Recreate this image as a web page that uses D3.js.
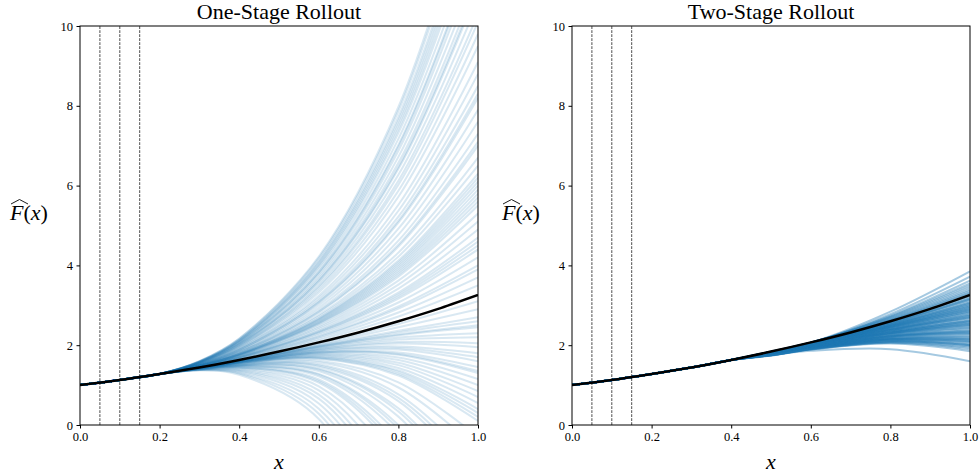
<!DOCTYPE html>
<html>
<head>
<meta charset="utf-8">
<script src="https://cdn.jsdelivr.net/npm/d3@7"></script>
<style>
  body { margin: 0; background: #fff; }
  svg text { font-family: "Liberation Serif", "Times New Roman", Times, serif; }
</style>
</head>
<body>
<svg id="chart" width="979" height="474"></svg>
<script>
// true function, sampled every 0.1
const truthX = [0, 0.1, 0.2, 0.3, 0.4, 0.5, 0.6, 0.7, 0.8, 0.9, 1.0];
const truthY = [1.0, 1.13, 1.28, 1.44, 1.63, 1.84, 2.07, 2.32, 2.6, 2.91, 3.26];

// one-stage estimates at x = 0.3, 0.4, 0.6, 0.8, 1.0 (on the truth up to x = 0.2)
const oneStageX = [0.3, 0.4, 0.6, 0.8, 1.0];
const oneStage = [
  [1.60, 2.17, 4.22, 7.97, 14.0], [1.60, 2.16, 4.18, 7.87, 13.8], [1.59, 2.14, 4.12, 7.72, 13.5],
  [1.59, 2.13, 4.08, 7.62, 13.3], [1.59, 2.12, 4.04, 7.52, 13.1], [1.58, 2.11, 4.00, 7.42, 12.9],
  [1.58, 2.10, 3.96, 7.32, 12.7], [1.58, 2.09, 3.90, 7.17, 12.4], [1.57, 2.07, 3.84, 7.02, 12.1],
  [1.57, 2.07, 3.82, 6.97, 12.0], [1.57, 2.06, 3.78, 6.87, 11.8], [1.56, 2.04, 3.72, 6.72, 11.5],
  [1.56, 2.03, 3.66, 6.57, 11.2], [1.56, 2.02, 3.62, 6.47, 11.0], [1.55, 2.01, 3.60, 6.42, 10.9],
  [1.55, 2.00, 3.54, 6.27, 10.6], [1.55, 1.98, 3.48, 6.12, 10.3], [1.54, 1.97, 3.44, 6.02, 10.1],
  [1.54, 1.96, 3.38, 5.87, 9.8], [1.53, 1.94, 3.32, 5.72, 9.5], [1.53, 1.92, 3.24, 5.52, 9.1],
  [1.52, 1.91, 3.18, 5.37, 8.8], [1.52, 1.89, 3.12, 5.22, 8.5], [1.52, 1.88, 3.08, 5.12, 8.3],
  [1.51, 1.88, 3.06, 5.07, 8.2], [1.51, 1.86, 3.00, 4.92, 7.9], [1.51, 1.85, 2.94, 4.77, 7.6],
  [1.50, 1.83, 2.88, 4.62, 7.3], [1.50, 1.82, 2.84, 4.52, 7.1], [1.50, 1.82, 2.82, 4.47, 7.0],
  [1.49, 1.80, 2.76, 4.32, 6.7], [1.49, 1.79, 2.72, 4.22, 6.5], [1.49, 1.78, 2.68, 4.12, 6.3],
  [1.48, 1.78, 2.66, 4.07, 6.2], [1.48, 1.77, 2.64, 4.02, 6.1], [1.48, 1.77, 2.62, 3.97, 6.0],
  [1.48, 1.76, 2.60, 3.92, 5.9], [1.48, 1.76, 2.58, 3.87, 5.8], [1.48, 1.75, 2.56, 3.82, 5.7],
  [1.48, 1.75, 2.54, 3.77, 5.6], [1.47, 1.74, 2.52, 3.72, 5.5], [1.47, 1.73, 2.48, 3.62, 5.3],
  [1.47, 1.72, 2.44, 3.52, 5.1], [1.46, 1.71, 2.40, 3.42, 4.9], [1.46, 1.70, 2.36, 3.32, 4.7],
  [1.46, 1.70, 2.34, 3.27, 4.6], [1.46, 1.69, 2.32, 3.22, 4.5], [1.46, 1.69, 2.30, 3.17, 4.4],
  [1.45, 1.68, 2.26, 3.07, 4.2], [1.45, 1.67, 2.22, 2.97, 4.0], [1.45, 1.66, 2.20, 2.92, 3.9],
  [1.45, 1.65, 2.16, 2.82, 3.7], [1.44, 1.64, 2.12, 2.72, 3.5],
  [1.44, 1.63, 2.05, 2.53, 3.1], [1.44, 1.62, 2.02, 2.45, 2.9], [1.44, 1.62, 2.00, 2.36, 2.7],
  [1.44, 1.61, 1.98, 2.32, 2.6], [1.44, 1.61, 1.97, 2.27, 2.5], [1.44, 1.61, 1.96, 2.25, 2.45],
  [1.44, 1.61, 1.95, 2.19, 2.3], [1.43, 1.60, 1.93, 2.14, 2.2], [1.43, 1.60, 1.91, 2.08, 2.05],
  [1.43, 1.60, 1.90, 2.04, 1.95], [1.43, 1.59, 1.88, 1.97, 1.8], [1.43, 1.59, 1.87, 1.93, 1.7],
  [1.43, 1.59, 1.85, 1.89, 1.6], [1.43, 1.58, 1.83, 1.82, 1.45], [1.43, 1.58, 1.82, 1.78, 1.35],
  [1.43, 1.58, 1.82, 1.76, 1.3], [1.43, 1.58, 1.80, 1.69, 1.15], [1.43, 1.57, 1.78, 1.63, 1.0],
  [1.43, 1.57, 1.76, 1.56, 0.85], [1.43, 1.57, 1.74, 1.50, 0.7], [1.43, 1.56, 1.72, 1.43, 0.55],
  [1.43, 1.56, 1.70, 1.37, 0.4], [1.43, 1.56, 1.69, 1.33, 0.3], [1.42, 1.55, 1.67, 1.28, 0.2],
  [1.42, 1.55, 1.66, 1.24, 0.1],
  [1.42, 1.54, 1.61, 1.07, -0.3], [1.42, 1.53, 1.57, 0.94, -0.6], [1.42, 1.52, 1.52, 0.77, -1.0],
  [1.42, 1.52, 1.49, 0.68, -1.2], [1.42, 1.51, 1.46, 0.60, -1.4], [1.41, 1.50, 1.41, 0.42, -1.8],
  [1.41, 1.50, 1.39, 0.34, -2.0], [1.41, 1.49, 1.35, 0.21, -2.3], [1.41, 1.48, 1.28, 0.00, -2.8],
  [1.41, 1.47, 1.26, -0.09, -3.0], [1.41, 1.47, 1.22, -0.22, -3.3], [1.40, 1.45, 1.14, -0.48, -3.9],
  [1.40, 1.44, 1.10, -0.61, -4.2], [1.40, 1.44, 1.06, -0.74, -4.5], [1.40, 1.42, 0.97, -1.04, -5.2],
  [1.39, 1.40, 0.87, -1.38, -6.0], [1.39, 1.38, 0.76, -1.73, -6.8], [1.39, 1.36, 0.66, -2.07, -7.6],
  [1.38, 1.34, 0.54, -2.46, -8.5], [1.38, 1.31, 0.41, -2.89, -9.5], [1.37, 1.29, 0.28, -3.32, -10.5],
  [1.37, 1.26, 0.15, -3.75, -11.5]
];

// two-stage estimates at x = 0.5, 0.6, 0.8, 1.0 (on the truth up to x = 0.4)
const twoStageX = [0.5, 0.6, 0.8, 1.0];
const twoStage = [
  [1.83, 2.06, 2.84, 3.85], [1.83, 2.06, 2.78, 3.72], [1.83, 2.06, 2.74, 3.62], [1.83, 2.06, 2.72, 3.55],
  [1.83, 2.06, 2.70, 3.5], [1.83, 2.06, 2.68, 3.45], [1.83, 2.06, 2.66, 3.4], [1.83, 2.06, 2.64, 3.36],
  [1.83, 2.06, 2.62, 3.32], [1.83, 2.06, 2.62, 3.3],
  [1.84, 2.07, 2.59, 3.24], [1.84, 2.06, 2.58, 3.2], [1.83, 2.06, 2.56, 3.17], [1.83, 2.06, 2.56, 3.15],
  [1.83, 2.05, 2.55, 3.14], [1.83, 2.05, 2.54, 3.1], [1.83, 2.05, 2.52, 3.07], [1.83, 2.04, 2.52, 3.05],
  [1.82, 2.04, 2.51, 3.04], [1.82, 2.04, 2.50, 3.0], [1.82, 2.04, 2.50, 3.0], [1.82, 2.03, 2.48, 2.97],
  [1.82, 2.03, 2.48, 2.95], [1.82, 2.03, 2.47, 2.94], [1.82, 2.02, 2.46, 2.91], [1.81, 2.02, 2.46, 2.9],
  [1.81, 2.02, 2.45, 2.88], [1.81, 2.02, 2.44, 2.85], [1.81, 2.02, 2.44, 2.85], [1.81, 2.01, 2.42, 2.82],
  [1.81, 2.01, 2.42, 2.8], [1.81, 2.01, 2.40, 2.77], [1.80, 2.00, 2.40, 2.75], [1.80, 2.00, 2.39, 2.74],
  [1.80, 2.00, 2.38, 2.71], [1.80, 2.00, 2.38, 2.7], [1.80, 1.99, 2.37, 2.68], [1.80, 1.99, 2.36, 2.65],
  [1.80, 1.99, 2.34, 2.62], [1.79, 1.98, 2.34, 2.6], [1.79, 1.98, 2.34, 2.6], [1.79, 1.98, 2.32, 2.57],
  [1.79, 1.98, 2.32, 2.55], [1.79, 1.98, 2.31, 2.54], [1.79, 1.97, 2.30, 2.51], [1.79, 1.97, 2.30, 2.5],
  [1.79, 1.97, 2.29, 2.48], [1.78, 1.96, 2.28, 2.45], [1.78, 1.96, 2.27, 2.43], [1.78, 1.96, 2.26, 2.4],
  [1.78, 1.95, 2.24, 2.37], [1.78, 1.95, 2.24, 2.35], [1.78, 1.95, 2.23, 2.34], [1.77, 1.95, 2.22, 2.31],
  [1.77, 1.95, 2.22, 2.3], [1.77, 1.94, 2.21, 2.28], [1.77, 1.94, 2.20, 2.25], [1.77, 1.93, 2.18, 2.22],
  [1.77, 1.93, 2.18, 2.2], [1.76, 1.93, 2.16, 2.17], [1.76, 1.93, 2.16, 2.15], [1.76, 1.92, 2.15, 2.14],
  [1.76, 1.92, 2.14, 2.11], [1.76, 1.92, 2.14, 2.1], [1.76, 1.92, 2.13, 2.08], [1.76, 1.91, 2.12, 2.05],
  [1.75, 1.91, 2.10, 2.02], [1.75, 1.91, 2.10, 2.0], [1.75, 1.91, 2.10, 2.0], [1.75, 1.90, 2.08, 1.97],
  [1.75, 1.90, 2.07, 1.94], [1.74, 1.89, 2.06, 1.9], [1.74, 1.89, 2.04, 1.85], [1.76, 1.86, 1.90, 1.6]
];

const markerX = [0.05, 0.1, 0.15];
const xTicks = [0, 0.2, 0.4, 0.6, 0.8, 1.0];
const yTicks = [0, 2, 4, 6, 8, 10];

const panels = [
  { title: "One-Stage Rollout", left: 80, pinX: 0.2, estX: oneStageX, est: oneStage, alpha: 0.17 },
  { title: "Two-Stage Rollout", left: 572, pinX: 0.4, estX: twoStageX, est: twoStage, alpha: 0.4 }
];

const svg = d3.select("#chart");
const plotW = 398, plotTop = 26, plotBottom = 425;
const serif = "'Liberation Serif', 'Times New Roman', Times, serif";

function drawPanel(p, idx) {
  const x = d3.scaleLinear().domain([0, 1]).range([p.left, p.left + plotW]);
  const y = d3.scaleLinear().domain([0, 10]).range([plotBottom, plotTop]);
  const g = svg.append("g");

  g.append("clipPath").attr("id", "clip" + idx)
    .append("rect")
    .attr("x", x(0)).attr("y", y(10))
    .attr("width", x(1) - x(0)).attr("height", y(0) - y(10));

  const line = d3.line()
    .x(d => x(d[0]))
    .y(d => y(d[1]))
    .curve(d3.curveCatmullRom.alpha(0.5));

  const pinned = truthX.map((v, i) => [v, truthY[i]]).filter(d => d[0] <= p.pinX + 1e-9);

  const plot = g.append("g").attr("clip-path", `url(#clip${idx})`);

  plot.selectAll("path.est")
    .data(p.est)
    .enter().append("path")
    .attr("class", "est")
    .attr("fill", "none")
    .attr("stroke", "#1f77b4")
    .attr("stroke-opacity", p.alpha)
    .attr("stroke-width", 2)
    .attr("d", d => line(pinned.concat(d.map((v, i) => [p.estX[i], v]))));

  plot.append("path")
    .attr("fill", "none")
    .attr("stroke", "#000")
    .attr("stroke-width", 2.5)
    .attr("d", line(truthX.map((v, i) => [v, truthY[i]])));

  plot.selectAll("line.marker")
    .data(markerX)
    .enter().append("line")
    .attr("class", "marker")
    .attr("x1", d => x(d)).attr("x2", d => x(d))
    .attr("y1", y(0)).attr("y2", y(10))
    .attr("stroke", "#000")
    .attr("stroke-width", 0.7)
    .attr("stroke-dasharray", "2.8,1.2");

  g.append("g")
    .attr("transform", `translate(0,${plotBottom})`)
    .call(d3.axisBottom(x).tickValues(xTicks).tickFormat(d3.format(".1f")).tickSize(3.5).tickPadding(3.5))
    .call(a => a.select(".domain").remove())
    .call(a => a.selectAll("text").attr("font-size", 12.5).attr("fill", "#000").attr("font-family", serif));

  g.append("g")
    .attr("transform", `translate(${p.left},0)`)
    .call(d3.axisLeft(y).tickValues(yTicks).tickSize(3.5).tickPadding(3.5))
    .call(a => a.select(".domain").remove())
    .call(a => a.selectAll("text").attr("font-size", 12.5).attr("fill", "#000").attr("font-family", serif));

  g.append("rect")
    .attr("x", x(0)).attr("y", y(10))
    .attr("width", x(1) - x(0)).attr("height", y(0) - y(10))
    .attr("fill", "none")
    .attr("stroke", "#000")
    .attr("stroke-width", 1);

  g.append("text")
    .attr("x", (x(0) + x(1)) / 2)
    .attr("y", 19)
    .attr("text-anchor", "middle")
    .attr("font-family", serif)
    .attr("font-size", 22)
    .text(p.title);

  g.append("text")
    .attr("x", (x(0) + x(1)) / 2)
    .attr("y", 469)
    .attr("text-anchor", "middle")
    .attr("font-family", serif)
    .attr("font-size", 22)
    .attr("font-style", "italic")
    .text("x");

  // y label: widehat F of x
  const yl = g.append("g").attr("transform", `translate(${p.left - 70},220)`);
  const ylText = yl.append("text")
    .attr("font-family", serif)
    .attr("font-size", 22);
  ylText.append("tspan").attr("font-style", "italic").text("F");
  ylText.append("tspan").text("(");
  ylText.append("tspan").attr("font-style", "italic").text("x");
  ylText.append("tspan").text(")");
  yl.append("path")
    .attr("d", "M1,-16 L9.5,-20.5 L18,-16")
    .attr("fill", "none")
    .attr("stroke", "#000")
    .attr("stroke-width", 0.9);
}

panels.forEach(drawPanel);
</script>
</body>
</html>
